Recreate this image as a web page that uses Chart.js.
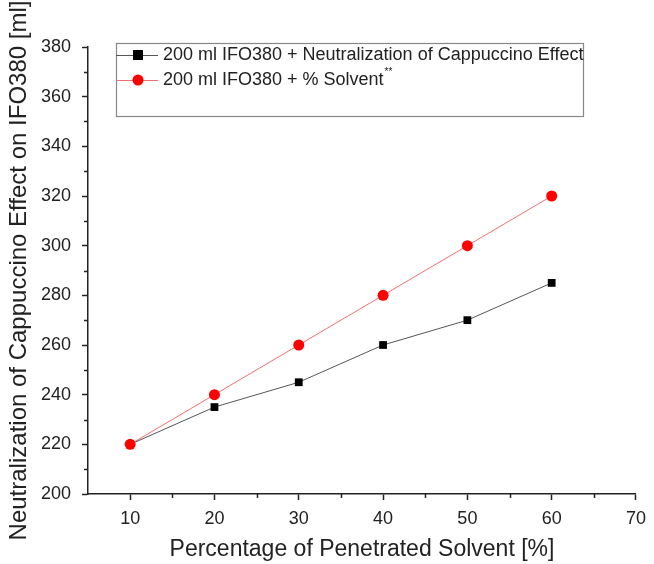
<!DOCTYPE html>
<html>
<head>
<meta charset="utf-8">
<script src="https://cdn.jsdelivr.net/npm/chart.js@4/dist/chart.umd.min.js"></script>
<style>
html,body{margin:0;padding:0;background:#fff;}
#wrap{width:654px;height:564px;position:relative;}
</style>
</head>
<body>
<div id="wrap"><canvas id="c" width="654" height="564"></canvas></div>
<script>
const xValues = [10, 20, 30, 40, 50, 60];
const neutralization = [220, 235, 245, 260, 270, 285];
const solvent = [220, 240, 260, 280, 300, 320];
const seriesLabels = ['200 ml IFO380 + Neutralization of Cappuccino Effect', '200 ml IFO380 + % Solvent'];
const xTicks = [10, 20, 30, 40, 50, 60, 70];
const yTicks = [200, 220, 240, 260, 280, 300, 320, 340, 360, 380];
const xTitle = 'Percentage of Penetrated Solvent [%]';
const yTitle = 'Neutralization of Cappuccino Effect on IFO380 [ml]';

const FONT = 'Arial, "Liberation Sans", sans-serif';
const TXT = '#222';

const minorTicks = {
  id: 'minorTicks',
  afterDraw(chart) {
    const ctx = chart.ctx;
    const xs = chart.scales.x, ys = chart.scales.y;
    ctx.save();
    ctx.strokeStyle = '#222';
    ctx.lineWidth = 1.5;
    for (let v = 15; v < 70; v += 10) {
      const p = Math.round(xs.getPixelForValue(v)) + 0.5;
      ctx.beginPath(); ctx.moveTo(p, ys.bottom); ctx.lineTo(p, ys.bottom + 4); ctx.stroke();
    }
    for (let v = 210; v < 380; v += 20) {
      const p = Math.round(ys.getPixelForValue(v)) + 0.5;
      ctx.beginPath(); ctx.moveTo(xs.left, p); ctx.lineTo(xs.left - 4, p); ctx.stroke();
    }
    ctx.restore();
  }
};

const boxLegend = {
  id: 'boxLegend',
  afterDraw(chart) {
    const ctx = chart.ctx;
    const L = 116, T = 43, R = 583, B = 116;
    ctx.save();
    ctx.strokeStyle = '#888';
    ctx.lineWidth = 1.2;
    ctx.strokeRect(L + 0.5, T + 0.5, R - L, B - T);
    const rows = [55, 80];
    chart.data.datasets.forEach((ds, i) => {
      const y = rows[i];
      ctx.strokeStyle = ds.borderColor;
      ctx.lineWidth = 1;
      ctx.beginPath(); ctx.moveTo(L, y + 0.5); ctx.lineTo(158, y + 0.5); ctx.stroke();
      ctx.fillStyle = i === 0 ? '#000' : '#ff0000';
      if (i === 0) { ctx.fillRect(133, y - 5, 10, 10); }
      else { ctx.beginPath(); ctx.arc(138, y, 5.5, 0, Math.PI * 2); ctx.fill(); }
      ctx.fillStyle = TXT;
      ctx.font = '18px ' + FONT;
      ctx.textBaseline = 'middle';
      ctx.fillText(ds.label, 163, y);
      if (i === 1) {
        const w = ctx.measureText(ds.label).width;
        ctx.font = '10px ' + FONT;
        ctx.fillText('**', 163 + w + 1, y - 8);
      }
    });
    ctx.restore();
  }
};

new Chart(document.getElementById('c'), {
  type: 'line',
  data: {
    datasets: [
      {
        label: seriesLabels[0],
        data: xValues.map((x, i) => ({x, y: neutralization[i]})),
        borderColor: '#555555',
        borderWidth: 1,
        pointStyle: 'rect',
        pointRadius: 5.5,
        pointBackgroundColor: c => c.dataIndex === 0 ? '#ff0000' : '#000',
        pointBorderColor: c => c.dataIndex === 0 ? '#ff0000' : '#000',
        pointBorderWidth: 0,
        order: 1
      },
      {
        label: seriesLabels[1],
        data: xValues.map((x, i) => ({x, y: solvent[i]})),
        borderColor: '#f07070',
        borderWidth: 1,
        pointStyle: 'circle',
        pointRadius: 5.5,
        pointBackgroundColor: '#ff0000',
        pointBorderColor: '#ff0000',
        pointBorderWidth: 0,
        order: 2
      }
    ]
  },
  options: {
    responsive: false,
    animation: false,
    layout: { padding: { top: 47, right: 14, left: 0, bottom: 0 } },
    plugins: { legend: { display: false }, tooltip: { enabled: false } },
    scales: {
      x: {
        type: 'linear', min: 5, max: 70,
        afterBuildTicks: s => { s.ticks = xTicks.map(v => ({value: v})); },
        afterFit: s => { s.height = 70; },
        border: { display: true, color: '#222', width: 1.5 },
        grid: { display: true, drawOnChartArea: false, drawTicks: true, tickLength: 6, tickColor: '#222', tickWidth: 1.5 },
        ticks: { color: TXT, font: { family: FONT, size: 18 }, padding: 8, maxRotation: 0 },
        title: { display: true, text: xTitle, color: TXT, font: { family: FONT, size: 23 }, padding: { top: 0, bottom: 1 } }
      },
      y: {
        type: 'linear', min: 200, max: 380,
        afterBuildTicks: s => { s.ticks = yTicks.map(v => ({value: v})); },
        afterFit: s => { s.width = 88; },
        border: { display: true, color: '#222', width: 1.5 },
        grid: { display: true, drawOnChartArea: false, drawTicks: true, tickLength: 6, tickColor: '#222', tickWidth: 1.5 },
        ticks: { color: TXT, font: { family: FONT, size: 18 }, padding: 11 },
        title: { display: true, text: yTitle, color: TXT, font: { family: FONT, size: 24 }, padding: { top: 5, bottom: 0 } }
      }
    }
  },
  plugins: [minorTicks, boxLegend]
});
</script>
</body>
</html>
